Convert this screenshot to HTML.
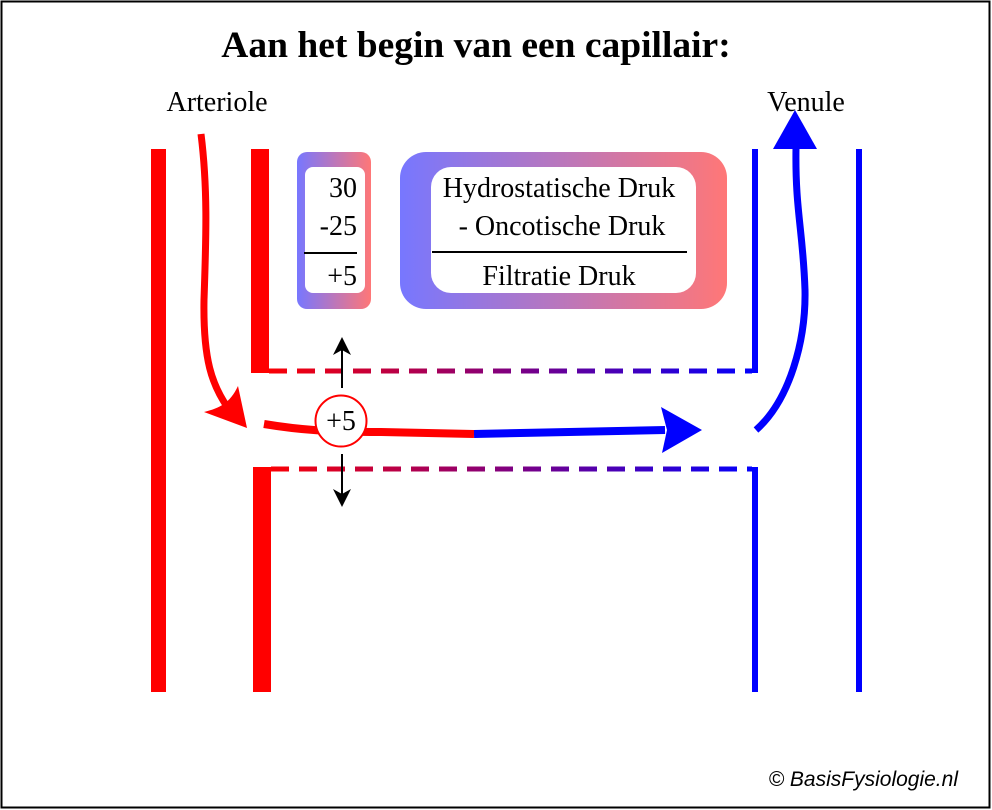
<!DOCTYPE html>
<html><head><meta charset="utf-8"><style>
html,body{margin:0;padding:0;background:#fff}
svg{display:block}
text{font-family:"Liberation Serif",serif;fill:#000}
</style></head><body>
<svg width="992" height="810" viewBox="0 0 992 810" xmlns="http://www.w3.org/2000/svg">
<defs>
<linearGradient id="g1" x1="0" x2="1" y1="0" y2="0"><stop offset="0" stop-color="#7777ff"/><stop offset="1" stop-color="#ff7777"/></linearGradient>
<linearGradient id="gd" gradientUnits="userSpaceOnUse" x1="260" x2="758" y1="0" y2="0"><stop offset="0" stop-color="#ff0000"/><stop offset="0.5" stop-color="#800080"/><stop offset="1" stop-color="#0000ff"/></linearGradient>
</defs>
<rect x="1.5" y="1.5" width="988" height="806" fill="#fff" stroke="#000" stroke-width="2"/>
<text x="476" y="57" font-size="37.5" font-weight="bold" text-anchor="middle">Aan het begin van een capillair:</text>
<text x="217" y="111" font-size="28" text-anchor="middle">Arteriole</text>
<text x="806" y="111" font-size="28" text-anchor="middle">Venule</text>
<rect x="151" y="149" width="15" height="543" fill="#f00"/>
<rect x="251" y="149" width="18" height="224" fill="#f00"/>
<rect x="253" y="467" width="18" height="225" fill="#f00"/>
<rect x="752" y="149" width="6" height="224" fill="#00f"/>
<rect x="752" y="467" width="6" height="225" fill="#00f"/>
<rect x="856" y="149" width="6" height="543" fill="#00f"/>
<line x1="269" y1="371" x2="752" y2="371" stroke="url(#gd)" stroke-width="5" stroke-dasharray="18,10"/>
<line x1="271" y1="469" x2="752" y2="469" stroke="url(#gd)" stroke-width="5" stroke-dasharray="18,10"/>
<rect x="297" y="152" width="74" height="157" rx="10" fill="url(#g1)"/>
<rect x="305" y="167" width="60" height="126" rx="8" fill="#fff"/>
<text x="357" y="197" font-size="28" text-anchor="end">30</text>
<text x="357" y="235" font-size="28" text-anchor="end">-25</text>
<line x1="304" y1="253" x2="357" y2="253" stroke="#000" stroke-width="2"/>
<text x="357" y="285" font-size="28" text-anchor="end">+5</text>
<rect x="400" y="152" width="327" height="157" rx="26" fill="url(#g1)"/>
<rect x="431" y="167" width="265" height="126" rx="20" fill="#fff"/>
<text x="559" y="197" font-size="28" text-anchor="middle">Hydrostatische Druk</text>
<text x="562" y="235" font-size="28" text-anchor="middle">- Oncotische Druk</text>
<line x1="432" y1="252" x2="687" y2="252" stroke="#000" stroke-width="2"/>
<text x="559" y="285" font-size="28" text-anchor="middle">Filtratie Druk</text>
<path d="M201,134 C208,190 206,240 204,300 C203,360 212,385 228,408" fill="none" stroke="#f00" stroke-width="7"/>
<path d="M247,428 L204,412 C220,408 230,403 238,386 Z" fill="#f00"/>
<path d="M264,424 C300,430 330,432 380,432 L474,434" fill="none" stroke="#f00" stroke-width="8"/>
<path d="M474,434 L665,430" fill="none" stroke="#00f" stroke-width="8"/>
<path d="M702,430 L661,407 L667,430 L662,453 Z" fill="#00f"/>
<path d="M756,430 C790,400 806,340 805,290 C803,230 795,210 796,148" fill="none" stroke="#00f" stroke-width="7"/>
<path d="M795,110 L773,149 L817,149 Z" fill="#00f"/>
<line x1="342" y1="388" x2="342" y2="350" stroke="#000" stroke-width="2"/>
<path d="M342,337 L333,355 L342,350 L351,355 Z" fill="#000"/>
<line x1="342" y1="454" x2="342" y2="494" stroke="#000" stroke-width="2"/>
<path d="M342,507 L333,489 L342,494 L351,489 Z" fill="#000"/>
<circle cx="341" cy="421" r="25.5" fill="#fff" stroke="#f00" stroke-width="2"/>
<text x="341" y="430" font-size="28" text-anchor="middle">+5</text>
<text x="958" y="786" font-size="21" font-style="italic" text-anchor="end" style="font-family:'Liberation Sans',sans-serif">© BasisFysiologie.nl</text>
</svg>
</body></html>
